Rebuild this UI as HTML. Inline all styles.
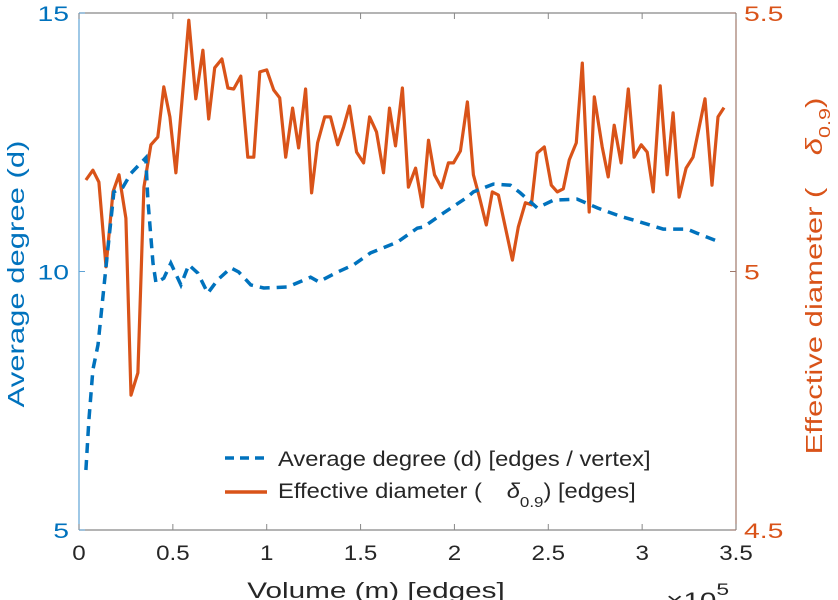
<!DOCTYPE html>
<html><head><meta charset="utf-8"><style>
html,body{margin:0;padding:0;background:#fff;}
svg{display:block;font-family:"Liberation Sans",sans-serif;}
</style></head><body>
<svg id="chart" width="838" height="600" viewBox="0 0 838 600">
<g id="axes"></g>
<g id="series"></g>
<g id="legend">
  <line x1="225" y1="458" x2="267" y2="458" stroke="#0072BD" stroke-width="3.5" stroke-dasharray="9,6"/>
  <text transform="translate(278,466) scale(1.13,1)" font-size="21" fill="#262626">Average degree (d) [edges / vertex]</text>
  <line x1="225" y1="492" x2="267" y2="492" stroke="#D95319" stroke-width="3.5"/>
  <text transform="translate(278,498) scale(1.13,1)" font-size="21" fill="#262626">Effective diameter (<tspan dx="22" font-style="italic">δ</tspan><tspan font-size="15" dy="9">0.9</tspan><tspan dy="-9">) [edges]</tspan></text>
</g>
</svg>
<script>
const xTicks=[0,0.5,1,1.5,2,2.5,3,3.5];
const xTickLabels=["0","0.5","1","1.5","2","2.5","3","3.5"];
const leftTicks=[5,10,15];
const rightTicks=[4.5,5,5.5];
const rightTickLabels=["4.5","5","5.5"];
const degreeX=[0.037,0.053,0.074,0.101,0.144,0.186,0.234,0.277,0.356,0.367,0.394,0.410,0.452,0.489,0.543,0.585,0.633,0.686,0.739,0.809,0.851,0.915,0.984,1.112,1.234,1.277,1.378,1.463,1.553,1.697,1.803,1.835,1.941,2.069,2.101,2.207,2.298,2.351,2.441,2.527,2.654,2.761,2.883,3.005,3.112,3.239,3.293,3.399];
const degreeY=[6.16,7.13,8.1,8.58,10.09,11.54,11.63,11.9,12.2,11.38,10.16,9.78,9.87,10.16,9.74,10.13,9.97,9.58,9.84,10.07,9.99,9.74,9.68,9.70,9.89,9.80,9.99,10.13,10.36,10.57,10.84,10.86,11.13,11.44,11.54,11.69,11.67,11.52,11.23,11.38,11.40,11.23,11.07,10.94,10.82,10.82,10.74,10.59];
const diamX=[0.037,0.074,0.106,0.144,0.181,0.213,0.250,0.277,0.314,0.346,0.383,0.420,0.452,0.484,0.516,0.585,0.622,0.660,0.691,0.723,0.761,0.793,0.824,0.862,0.899,0.931,0.963,1.0,1.037,1.069,1.101,1.138,1.170,1.207,1.239,1.271,1.309,1.340,1.378,1.410,1.441,1.479,1.516,1.548,1.585,1.622,1.654,1.686,1.723,1.755,1.793,1.830,1.862,1.894,1.931,1.968,1.995,2.032,2.069,2.101,2.133,2.170,2.202,2.234,2.309,2.340,2.378,2.410,2.441,2.479,2.516,2.548,2.580,2.612,2.649,2.681,2.718,2.745,2.787,2.819,2.851,2.888,2.926,2.957,2.995,3.027,3.059,3.096,3.133,3.165,3.197,3.234,3.271,3.335,3.372,3.404,3.436];
const diamY=[5.177,5.196,5.173,5.009,5.154,5.187,5.103,4.761,4.804,5.163,5.245,5.260,5.357,5.299,5.191,5.486,5.334,5.428,5.295,5.394,5.411,5.355,5.353,5.378,5.221,5.221,5.386,5.390,5.351,5.336,5.221,5.316,5.239,5.353,5.152,5.249,5.299,5.299,5.245,5.280,5.320,5.231,5.210,5.299,5.270,5.191,5.316,5.243,5.355,5.163,5.200,5.125,5.254,5.187,5.162,5.210,5.210,5.233,5.328,5.187,5.144,5.090,5.154,5.148,5.022,5.086,5.133,5.129,5.229,5.241,5.167,5.154,5.160,5.216,5.249,5.403,5.115,5.338,5.241,5.183,5.283,5.210,5.353,5.221,5.245,5.231,5.154,5.359,5.187,5.307,5.144,5.200,5.221,5.334,5.167,5.299,5.317];

const L=79,R=736,T=13,B=530,K=1.35,KX=1.15;
const sx=v=>L+(v-0)/(3.5-0)*(R-L);
const syL=v=>B-(v-5)/(15-5)*(B-T);
const syR=v=>B-(v-4.5)/(5.5-4.5)*(B-T);
const NS="http://www.w3.org/2000/svg";
function mk(tag,attrs,parent,txt){const e=document.createElementNS(NS,tag);for(const k in attrs)e.setAttribute(k,attrs[k]);if(txt!==undefined)e.textContent=txt;parent.appendChild(e);return e;}
function tr(x,y,rot,k){return 'translate('+x+','+y+')'+(rot?' rotate('+rot+')':'')+' scale('+(k||K)+',1)';}
const ax=document.getElementById('axes');
let e;
e=mk('line',{x1:L,y1:T,x2:R,y2:T,stroke:'#888',"stroke-width":1.2},ax);


e=mk('line',{x1:L,y1:B,x2:R,y2:B,stroke:'#888',"stroke-width":1.2},ax);


e=mk('line',{x1:L,y1:T,x2:L,y2:B,stroke:'#5fa3d6',"stroke-width":1.2},ax);


e=mk('line',{x1:R,y1:T,x2:R,y2:B,stroke:'#a0786a',"stroke-width":1.2},ax);


xTicks.forEach((t,i)=>{const x=sx(t);
 mk('line',{x1:x,y1:B,x2:x,y2:B-6,stroke:'#888'},ax);
 mk('line',{x1:x,y1:T,x2:x,y2:T+6,stroke:'#888'},ax);
 const tx=mk('text',{transform:tr(x,B+30,0,KX),"text-anchor":"middle","font-size":21,fill:'#262626'},ax,xTickLabels[i]);
 
 
});
leftTicks.forEach(t=>{const y=syL(t);
 mk('line',{x1:L,y1:y,x2:L+6,y2:y,stroke:'#5fa3d6'},ax);
 const tx=mk('text',{transform:tr(L-10,y+8),"text-anchor":"end","font-size":21,fill:'#0072BD'},ax,String(t));
 
 
});
rightTicks.forEach((t,i)=>{const y=syR(t);
 mk('line',{x1:R,y1:y,x2:R-6,y2:y,stroke:'#a0786a'},ax);
 const tx=mk('text',{transform:tr(R+8,y+8),"font-size":21,fill:'#D95319'},ax,rightTickLabels[i]);
 
 
});
e=mk('text',{transform:tr(24,274,-90),"text-anchor":"middle","font-size":23,fill:'#0072BD'},ax,'Average degree (d)');


e=mk('text',{transform:tr(822,276,-90),"text-anchor":"middle","font-size":23,fill:'#D95319'},ax);
e.innerHTML='Effective diameter (<tspan dx="24" font-style="italic">δ</tspan><tspan font-size="16" dy="8">0.9</tspan><tspan dy="-8">)</tspan>';


e=mk('text',{transform:tr(376,598),"text-anchor":"middle","font-size":22,fill:'#262626'},ax,'Volume (m) [edges]');


e=mk('text',{transform:tr(666,608),"font-size":22,fill:'#262626'},ax);
e.innerHTML='×10<tspan font-size="17" dy="-13">5</tspan>';



const sg=document.getElementById('series');
const dp=diamX.map((x,i)=>sx(x).toFixed(1)+','+syR(diamY[i]).toFixed(1)).join(' ');
e=mk('polyline',{points:dp,fill:'none',stroke:'#D95319',"stroke-width":3.2,"stroke-linejoin":"round"},sg);


const bp=degreeX.map((x,i)=>sx(x).toFixed(1)+','+syL(degreeY[i]).toFixed(1)).join(' ');
e=mk('polyline',{points:bp,fill:'none',stroke:'#0072BD',"stroke-width":3.5,"stroke-dasharray":"10,7"},sg);


</script>
</body></html>
